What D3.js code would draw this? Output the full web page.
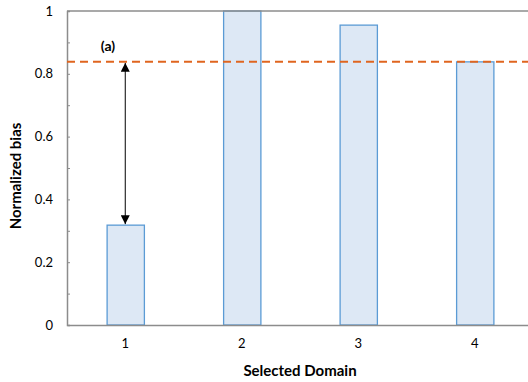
<!DOCTYPE html>
<html><head><meta charset="utf-8">
<script src="https://cdn.jsdelivr.net/npm/d3@7"></script>
<style>body{margin:0;background:#fff}svg{display:block}text{font-family:Lato,"Open Sans",sans-serif}</style>
</head><body>
<svg id="c" width="528" height="382"></svg>
<script>
const categories = ["1","2","3","4"];
const values = [0.318, 1.0, 0.955, 0.838];
const refLevel = 0.838;
const yTicks = [0, 0.2, 0.4, 0.6, 0.8, 1];
const yMinor = [0.1, 0.3, 0.5, 0.7, 0.9];

const svg = d3.select("#c");
const m = {l:67, t:11, r:533, b:325};
const x = d3.scaleBand().domain(categories).range([m.l, m.r]).paddingInner(0.68).paddingOuter(0.34);
const y = d3.scaleLinear().domain([0,1]).range([m.b, m.t]);

// bars
svg.append("g").selectAll("rect").data(values).join("rect")
  .attr("x",(d,i)=>x(categories[i])+0.5).attr("y",d=>y(d))
  .attr("width",x.bandwidth()).attr("height",d=>y(0)-y(d))
  .attr("fill","#dde8f5").attr("stroke","#5b9bd5").attr("stroke-width",1.3);

// axes
const ya = d3.axisLeft(y).tickValues(yTicks).tickSize(-3).tickPadding(14).tickFormat(d=>d3.format("~g")(d));
const gy = svg.append("g").attr("transform",`translate(${m.l},0)`).call(ya);
gy.select(".domain").attr("stroke","#8c8c8c").attr("stroke-width",1.5);
gy.selectAll(".tick line").attr("stroke","#8c8c8c");
gy.selectAll(".tick text").attr("font-size",13).attr("fill","#000").attr("font-family","Lato,sans-serif");
svg.append("g").attr("transform",`translate(${m.l},0)`)
  .call(d3.axisLeft(y).tickValues(yMinor).tickSize(-3).tickFormat(""))
  .call(g=>{g.select(".domain").remove(); g.selectAll("line").attr("stroke","#8c8c8c");});

const xa = d3.axisBottom(x).tickSize(0).tickPadding(14);
const gx = svg.append("g").attr("transform",`translate(0,${m.b})`).call(xa);
gx.select(".domain").attr("stroke","#8c8c8c").attr("stroke-width",1.5);
gx.selectAll(".tick text").attr("font-size",13).attr("fill","#000").attr("font-family","Lato,sans-serif");

// top border
svg.append("line").attr("x1",m.l).attr("x2",m.r).attr("y1",y(1)).attr("y2",y(1))
  .attr("stroke","#8c8c8c").attr("stroke-width",1.5);

// reference dashed line
svg.append("line").attr("x1",m.l).attr("x2",m.r).attr("y1",y(refLevel)).attr("y2",y(refLevel))
  .attr("stroke","#e0651f").attr("stroke-width",2).attr("stroke-dasharray","8,5");

// arrow
const defs = svg.append("defs");
defs.append("marker").attr("id","ah").attr("viewBox","0 0 10 10").attr("refX",10).attr("refY",5)
  .attr("markerWidth",9).attr("markerHeight",9).attr("markerUnits","userSpaceOnUse").attr("orient","auto-start-reverse")
  .append("path").attr("d","M0,0L10,5L0,10Z").attr("fill","#000");
const ax = x("1")+x.bandwidth()/2;
svg.append("line").attr("x1",ax).attr("x2",ax).attr("y1",y(refLevel)+1).attr("y2",y(values[0])-1)
  .attr("stroke","#000").attr("stroke-width",1)
  .attr("marker-start","url(#ah)").attr("marker-end","url(#ah)");

svg.append("text").attr("x",108).attr("y",51).attr("text-anchor","middle")
  .attr("font-size",14).attr("font-weight","bold").text("(a)");

// axis titles
svg.append("text").attr("transform","translate(21,176) rotate(-90)").attr("text-anchor","middle")
  .attr("font-size",15).attr("font-weight","bold").text("Normalized bias");
svg.append("text").attr("x",(m.l+m.r)/2).attr("y",376).attr("text-anchor","middle")
  .attr("font-size",15).attr("font-weight","bold").text("Selected Domain");
</script>
</body></html>
